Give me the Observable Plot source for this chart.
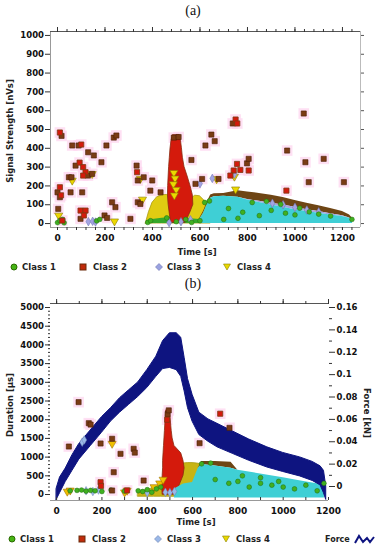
<!DOCTYPE html>
<html>
<head>
<meta charset="utf-8">
<script src="https://cdn.jsdelivr.net/npm/d3@7"></script>
<script src="https://cdn.jsdelivr.net/npm/@observablehq/plot@0.6"></script>
<style>
html,body{margin:0;padding:0;background:#fff;}
#root{position:relative;width:377px;height:550px;overflow:hidden;font-family:"DejaVu Sans",sans-serif;}
.abs{position:absolute;}
.ttl{font-family:"Liberation Serif","Times New Roman",serif;font-size:14px;color:#111;transform:translate(-50%,-50%);white-space:nowrap;}
.lab{font-size:8.5px;font-weight:bold;color:#222;white-space:nowrap;transform:translate(-50%,-50%);}
.rot{transform:translate(-50%,-50%) rotate(-90deg);}
.rot90{transform:translate(-50%,-50%) rotate(90deg);}
svg text{font-family:"DejaVu Sans",sans-serif;}
</style>
</head>
<body>
<div id="root">
  <div class="abs ttl" style="left:193px;top:11px">(a)</div>
  <div id="pa" class="abs" style="left:0;top:0"></div>
  <div class="abs lab" style="left:197px;top:252px">Time [s]</div>
  <div class="abs lab rot" style="left:10px;top:131px">Signal Strength [nVs]</div>
  <svg class="abs" style="left:0;top:258px" width="377" height="18">
    <circle cx="14" cy="9" r="3" fill="#46b414" stroke="#2a6a00"/>
    <text x="22" y="12.2" font-size="8.5" font-weight="bold" fill="#222">Class 1</text>
    <rect x="80" y="6" width="6" height="6" fill="#c02a0a" stroke="#6a2a0a"/>
    <text x="93" y="12.2" font-size="8.5" font-weight="bold" fill="#222">Class 2</text>
    <path d="M159,5.5L162.5,9L159,12.5L155.5,9Z" fill="#9aa2e0" stroke="#6a70b0" stroke-width="0.6"/>
    <text x="167" y="12.2" font-size="8.5" font-weight="bold" fill="#222">Class 3</text>
    <path d="M223.5,6L230.5,6L227,12Z" fill="#e8d800" stroke="#8a8000" stroke-width="0.6"/>
    <text x="237" y="12.2" font-size="8.5" font-weight="bold" fill="#222">Class 4</text>
  </svg>

  <div class="abs ttl" style="left:193px;top:284px">(b)</div>
  <div id="pb" class="abs" style="left:0;top:280px"></div>
  <div class="abs lab" style="left:196px;top:522px">Time [s]</div>
  <div class="abs lab rot" style="left:10px;top:405px">Duration [µs]</div>
  <div class="abs lab rot90" style="left:367px;top:413px">Force [kN]</div>
  <svg class="abs" style="left:0;top:530px" width="377" height="18">
    <circle cx="12" cy="9" r="3" fill="#46b414" stroke="#2a6a00"/>
    <text x="20" y="12.2" font-size="8.5" font-weight="bold" fill="#222">Class 1</text>
    <rect x="79" y="6" width="6" height="6" fill="#c02a0a" stroke="#6a2a0a"/>
    <text x="92" y="12.2" font-size="8.5" font-weight="bold" fill="#222">Class 2</text>
    <path d="M158,5.5L161.5,9L158,12.5L154.5,9Z" fill="#9ab8e8" stroke="#6a80b0" stroke-width="0.6"/>
    <text x="167" y="12.2" font-size="8.5" font-weight="bold" fill="#222">Class 3</text>
    <path d="M222.5,6L229.5,6L226,12Z" fill="#e8d800" stroke="#8a8000" stroke-width="0.6"/>
    <text x="236" y="12.2" font-size="8.5" font-weight="bold" fill="#222">Class 4</text>
    <text x="325" y="12.2" font-size="8" font-weight="bold" fill="#222">Force</text>
    <path d="M355,13L359,6L363,12L367,8L370,12L374,7" fill="none" stroke="#0e1480" stroke-width="2"/>
  </svg>
</div>
<script>
// ---------------- Panel (a): Signal Strength [nVs] vs Time [s] ----------------
const aXTicks = [0, 200, 400, 600, 800, 1000, 1200];
const aYTicks = [0, 100, 200, 300, 400, 500, 600, 700, 800, 900, 1000];

// Class 2 scattered squares (brown)
const aC2Time = [17,62,89,129,153,185,206,237,248,76,128,146,48,59,55,0,104,3,97,230,244,198,209,307,333,338,363,338,349,399,391,434,564,609,623,648,662,581,678,798,805,967,1044,1058,1121,1206,490,510,738,1037,10];
const aC2Val  = [466,415,415,379,362,326,415,457,468,308,255,264,246,246,166,166,166,78,25,113,87,43,30,25,308,229,246,113,104,229,175,166,338,237,415,473,438,211,237,320,344,388,326,220,344,220,457,460,532,585,140];
// Class 2 scattered squares (red)
const aC2RedTime = [10,100,93,108,118,108,10,97,118,111,335,756,770,742,728,805,964,750,757,20,15];
const aC2RedVal  = [484,420,324,300,273,255,193,69,69,43,273,317,285,282,255,282,175,553,532,16,150];
// Class 1, 3, 4 scattered
const aC1Time = [0,10,22,28,165,178,380,392,700,760,850,900,960,1000,1060,1100,1150,1240,620,640,820,880,940,1020,460,500,540,565,600,720,780];
const aC1Val  = [5,16,22,4,14,22,6,15,22,28,42,70,55,46,62,50,40,22,112,120,112,118,102,82,30,10,22,6,15,80,60];
const aC3Time = [130,148,160,600,652,745,470,520,560,905,950,1000,1050,1100];
const aC3Val  = [10,12,8,212,240,262,5,10,20,108,100,86,72,62];
const aC4Time = [5,62,146,349,745,670,750,490,495,488,500,492,358,240];
const aC4Val  = [43,229,264,238,250,237,182,270,240,210,180,150,128,12];
// dense clouds (envelopes)
const aYelTime = [372,385,400,420,440,460,480,500,520,540,560,580,600,620,645];
const aYelTop  = [0,60,110,140,150,152,150,140,120,110,130,148,145,120,95];
const aGrnTime = [375,400,440,480,520,560,600,630];
const aGrnTop  = [15,22,28,32,30,26,22,15];
const aSpikeVal   = [5,60,100,150,200,250,300,350,400,440,470];
const aSpikeLeft  = [478,472,468,465,466,468,470,473,476,480,486];
const aSpikeRight = [540,560,572,570,560,548,535,528,524,520,515];
const aMassTime = [598,615,630,645,660,700,760,800,850,900,950,1000,1050,1100,1150,1200,1230,1242];
const aCyanTop  = [20,55,100,135,142,145,140,125,112,98,86,74,64,55,46,38,28,14];
const aLilacTop = [20,55,100,135,142,145,140,128,118,108,98,86,74,64,52,42,30,15];
const aBrownTop = [25,65,112,152,158,160,175,168,160,150,138,122,108,95,80,64,46,28];

// ---------------- Panel (b): Duration [µs] / Force [kN] vs Time [s] ----------------
const bXTicks = [0, 200, 400, 600, 800, 1000, 1200];
const bYTicks = [0, 500, 1000, 1500, 2000, 2500, 3000, 3500, 4000, 4500, 5000];
const bForceTicks = [0, 0.02, 0.04, 0.06, 0.08, 0.1, 0.12, 0.14, 0.16];
// Force band (lower / upper edge of the noisy line)
const bForceTime = [0,15,40,70,100,150,200,240,280,320,360,400,440,470,500,530,550,565,580,600,630,670,710,780,850,930,1000,1075,1130,1165,1180,1190];
const bForceLow  = [-0.012,-0.006,0.004,0.014,0.024,0.036,0.048,0.058,0.066,0.073,0.08,0.088,0.098,0.105,0.106,0.104,0.098,0.085,0.07,0.058,0.046,0.04,0.035,0.029,0.023,0.017,0.013,0.009,0.005,0.001,-0.006,-0.012];
const bForceHigh = [-0.002,0.008,0.016,0.028,0.038,0.05,0.062,0.07,0.079,0.086,0.093,0.104,0.116,0.13,0.137,0.137,0.133,0.115,0.096,0.082,0.066,0.06,0.056,0.049,0.042,0.035,0.03,0.026,0.022,0.018,0.014,0.0];
// scattered classes
const bC2Time = [97,142,150,54,245,282,340,345,252,245,384,631,763,194,490,495];
const bC2Dur  = [2470,1907,1870,1283,1490,1088,1222,1120,596,107,374,1372,1783,1364,2150,2250];
const bC2RedTime = [722,194,196,311,488];
const bC2RedDur  = [2160,329,230,110,2000];
const bC1Time = [60,90,110,130,150,170,200,240,300,360,380,400,420,440,460,700,760,800,850,900,950,1000,1050,1100,1150,1180,900,820,980,640,680];
const bC1Dur  = [100,110,120,90,110,100,80,120,90,100,80,130,60,150,200,400,300,350,200,300,250,200,150,250,100,300,450,500,350,820,840];
const bC3Time = [113,122,130,160,185,400,480,500,520];
const bC3Dur  = [1400,1460,100,80,120,50,60,50,80];
const bC4Time = [245,47,60,311,300,430,455,470];
const bC4Dur  = [1360,80,110,107,60,200,300,400];
// dense clouds
const bYelTime = [360,400,430,460,480,500,520,540,560,580,600,620,645];
const bYelTop  = [40,120,180,250,320,420,600,800,830,840,840,830,800];
const bSpikeDur   = [0,200,500,700,900,1100,1300,1500,1700,1900,2100,2250];
const bSpikeLeft  = [468,466,468,470,470,472,474,476,478,480,482,484];
const bSpikeRight = [520,540,560,565,560,550,520,512,508,505,502,498];
const bMassTime = [520,560,600,625,640,700,770,800,870,940,1000,1060,1110,1150,1170,1182];
const bCyanTop  = [150,280,320,700,800,760,700,650,580,510,450,380,330,290,240,150];
const bBrownTop = [150,280,320,700,880,880,860,650,580,510,450,380,330,290,240,150];

// ---------------- helpers ----------------
const pts = (xs, ys) => xs.map((x, i) => ({x, y: ys[i]}));
const tri = (xs, a, b) => xs.map((x, i) => ({x, a: a[i], b: b[i]}));
const fmt = d3.format("d");
const C = {
  cyan: "#3fcfd5", lilac: "#a4a4e2", brown: "#6e4514", yel: "#e0cc12", olive: "#a89a10",
  grn: "#36a82a", red: "#d41a0c", sq: "#7a3c14", navy: "#0e1480", halo: "#fdd6ef"
};
const baseStyle = {fontFamily: "'DejaVu Sans', sans-serif", fontSize: "8.5px", fontWeight: "bold", color: "#111", background: "transparent", overflow: "visible"};

// ---------------- Plot (a) ----------------
const a2 = pts(aC2Time, aC2Val), a2r = pts(aC2RedTime, aC2RedVal);
const aMass = aMassTime.map((t, i) => ({x: t, c: aCyanTop[i], l: aLilacTop[i], b: aBrownTop[i]}));
const aXMin = -29.5, aXMax = 1276, aYMin = -21, aYMax = 1021;
const plotA = Plot.plot({
  width: 377, height: 262,
  marginLeft: 50, marginRight: 17, marginTop: 31, marginBottom: 35,
  x: {domain: [aXMin, aXMax]},
  y: {domain: [aYMin, aYMax]},
  style: baseStyle,
  marks: [
    Plot.dot(a2.concat(a2r), {x: "x", y: "y", symbol: "square", r: 6, fill: C.halo, fillOpacity: 0.75}),
    Plot.areaY(pts(aYelTime, aYelTop), {x: "x", y1: 0, y2: "y", fill: C.yel, stroke: C.olive, strokeWidth: 0.8}),
    Plot.areaY(pts(aGrnTime, aGrnTop), {x: "x", y1: 0, y2: "y", fill: C.grn}),
    Plot.areaX(tri(aSpikeVal, aSpikeLeft, aSpikeRight), {y: "x", x1: "a", x2: "b", fill: C.red, stroke: "#8a2a10", strokeWidth: 0.8}),
    Plot.areaY(aMass, {x: "x", y1: "l", y2: "b", fill: C.brown}),
    Plot.areaY(aMass, {x: "x", y1: "c", y2: "l", fill: C.lilac}),
    Plot.areaY(aMass, {x: "x", y1: 0, y2: "c", fill: C.cyan}),
    Plot.dot(pts(aC4Time, aC4Val), {x: "x", y: "y", symbol: "triangle", rotate: 180, r: 3, fill: "#ecd800", stroke: "#8a7a00", strokeWidth: 0.6}),
    Plot.dot(pts(aC3Time, aC3Val), {x: "x", y: "y", symbol: "diamond", r: 2.6, fill: C.lilac, stroke: "#6a70b0", strokeWidth: 0.5}),
    Plot.dot(pts(aC1Time, aC1Val), {x: "x", y: "y", r: 2.4, fill: "#40b020", stroke: "#1f6a10", strokeWidth: 0.5}),
    Plot.dot(a2, {x: "x", y: "y", symbol: "square", r: 2.9, fill: C.sq, stroke: "#4a2006", strokeWidth: 0.6}),
    Plot.dot(a2r, {x: "x", y: "y", symbol: "square", r: 2.9, fill: C.red, stroke: C.sq, strokeWidth: 0.8}),
    // frame
    Plot.ruleX([aXMin], {stroke: "#999"}),
    Plot.ruleX([aXMax], {stroke: "#bbb"}),
    Plot.ruleY([aYMin], {stroke: "#999"}),
    Plot.ruleY([aYMax], {stroke: "#555"}),
    // axes
    Plot.axisY({ticks: aYTicks, tickSize: 5, tickPadding: 1.5, tickFormat: fmt, label: null, stroke: "#333"}),
    Plot.axisY({anchor: "right", ticks: aYTicks, tickSize: 3, tickFormat: () => "", label: null, stroke: "#555"}),
    Plot.axisX({ticks: d3.range(0, 1280, 40), tickSize: 3, tickFormat: () => "", label: null, stroke: "#333"}),
    Plot.axisX({ticks: aXTicks, tickSize: 3, tickPadding: 4, fontSize: 9, tickFormat: fmt, label: null, stroke: "#333"}),
    Plot.axisX({anchor: "top", ticks: d3.range(0, 1260, 40), tickSize: 3, tickFormat: () => "", label: null, stroke: "#333"}),
    Plot.axisX({anchor: "top", ticks: aXTicks, tickSize: 5, tickFormat: () => "", label: null, stroke: "#333"})
  ]
});
document.getElementById("pa").appendChild(plotA);

// ---------------- Plot (b) ----------------
const fy = f => 214 + f * 29912.5; // force [kN] -> position on the duration scale
const b2 = pts(bC2Time, bC2Dur), b2r = pts(bC2RedTime, bC2RedDur);
const bMass = bMassTime.map((t, i) => ({x: t, c: bCyanTop[i], b: bBrownTop[i]}));
const bForce = bForceTime.map((t, i) => ({x: t, lo: fy(bForceLow[i]), hi: fy(bForceHigh[i])}));
const bXMin = -27, bXMax = 1200, bYMin = -160, bYMax = 5107;
const bMinorF = [0.01, 0.03, 0.05, 0.07, 0.09, 0.11, 0.13, 0.15];
const plotB = Plot.plot({
  width: 377, height: 250,
  marginLeft: 50, marginRight: 49, marginTop: 23, marginBottom: 30,
  x: {domain: [bXMin, bXMax]},
  y: {domain: [bYMin, bYMax]},
  style: baseStyle,
  marks: [
    Plot.dot(b2.concat(b2r), {x: "x", y: "y", symbol: "square", r: 6, fill: C.halo, fillOpacity: 0.75}),
    Plot.areaY(pts(bYelTime, bYelTop), {x: "x", y1: -60, y2: "y", fill: "#c8b414", stroke: C.olive, strokeWidth: 0.8}),
    Plot.areaX(tri(bSpikeDur, bSpikeLeft, bSpikeRight), {y: "x", x1: "a", x2: "b", fill: C.red, stroke: "#8a2a10", strokeWidth: 0.8}),
    Plot.areaY(bMass, {x: "x", y1: "c", y2: "b", fill: C.brown}),
    Plot.areaY(bMass, {x: "x", y1: -90, y2: "c", fill: C.cyan}),
    Plot.areaY(bForce, {x: "x", y1: "lo", y2: "hi", fill: C.navy, stroke: C.navy, strokeWidth: 1}),
    Plot.dot(pts(bC4Time, bC4Dur), {x: "x", y: "y", symbol: "triangle", rotate: 180, r: 3, fill: "#f0c000", stroke: "#a07000", strokeWidth: 0.6}),
    Plot.dot(pts(bC3Time, bC3Dur), {x: "x", y: "y", symbol: "diamond", r: 2.6, fill: "#9ab8e8", stroke: "#6a80b0", strokeWidth: 0.5}),
    Plot.dot(pts(bC1Time, bC1Dur), {x: "x", y: "y", r: 2.4, fill: "#40b020", stroke: "#1f6a10", strokeWidth: 0.5}),
    Plot.dot(b2, {x: "x", y: "y", symbol: "square", r: 2.9, fill: C.sq, stroke: "#4a2006", strokeWidth: 0.6}),
    Plot.dot(b2r, {x: "x", y: "y", symbol: "square", r: 2.9, fill: C.red, stroke: C.sq, strokeWidth: 0.8}),
    // frame lines
    Plot.ruleY([bYMin], {stroke: "#999"}),
    Plot.ruleY([bYMax], {stroke: "#555"}),
    // axes
    Plot.axisY({ticks: bYTicks, tickSize: 5, tickPadding: 1.5, tickFormat: fmt, label: null, stroke: "#333"}),
    Plot.axisY({ticks: d3.range(0, 5001, 100), tickSize: 2, tickFormat: () => "", label: null, stroke: "#333"}),
    Plot.axisY({anchor: "right", ticks: bForceTicks.map(fy), tickSize: 6, tickPadding: 2,
      tickFormat: d => String(Math.round((d - 214) / 29912.5 * 100) / 100), label: null, stroke: "#333"}),
    Plot.axisY({anchor: "right", ticks: bMinorF.map(fy), tickSize: 3, tickFormat: () => "", label: null, stroke: "#333"}),
    Plot.axisX({ticks: bXTicks, tickSize: 0, tickPadding: 7, fontSize: 9, tickFormat: fmt, label: null}),
    Plot.axisX({ticks: d3.range(0, 1201, 100), tickSize: -3, tickFormat: () => "", label: null, stroke: "#333"}),
    Plot.axisX({anchor: "top", ticks: d3.range(0, 1201, 100), tickSize: 3, tickFormat: () => "", label: null, stroke: "#333"}),
    Plot.axisX({anchor: "top", ticks: bXTicks, tickSize: 5, tickFormat: () => "", label: null, stroke: "#333"})
  ]
});
document.getElementById("pb").appendChild(plotB);
</script>
</body>
</html>
